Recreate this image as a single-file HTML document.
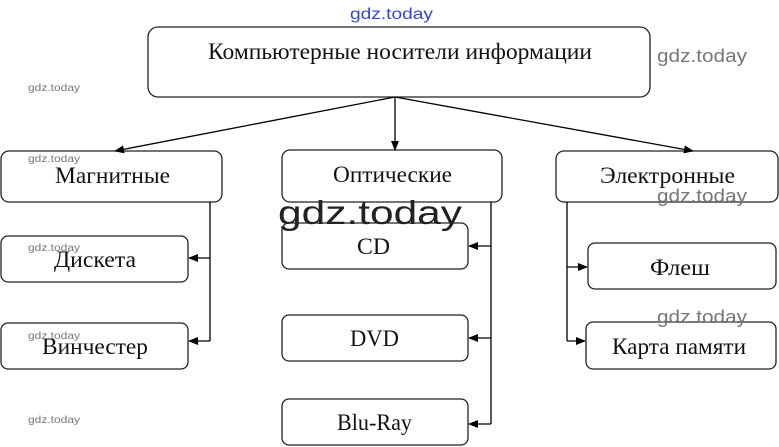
<!DOCTYPE html>
<html><head><meta charset="utf-8"><style>
html,body{margin:0;padding:0;background:#fff;}
svg{display:block;}
text{font-family:"Liberation Serif",serif;fill:#111;}
.w{font-family:"Liberation Sans",sans-serif;fill:#777;}
</style></head><body>
<svg width="779" height="447" viewBox="0 0 779 447" xmlns="http://www.w3.org/2000/svg">
<defs><marker id="a" markerWidth="10" markerHeight="8" refX="9" refY="4" orient="auto" markerUnits="userSpaceOnUse"><path d="M0,0 L10,4 L0,8 z" fill="#000"/></marker></defs>
<g fill="#fff" stroke="#222" stroke-width="1.3">
<rect x="148" y="27" width="502" height="70" rx="10"/>
<rect x="1" y="151" width="221" height="51" rx="8"/>
<rect x="1" y="236" width="187" height="46" rx="7"/>
<rect x="1" y="323" width="187" height="46" rx="7"/>
<rect x="282" y="150" width="220" height="52" rx="8"/>
<rect x="282" y="223" width="186" height="46" rx="7"/>
<rect x="282" y="315" width="186" height="46" rx="7"/>
<rect x="282" y="399" width="186" height="46" rx="7"/>
<rect x="556" y="151" width="222" height="51" rx="8"/>
<rect x="588" y="243" width="188" height="46" rx="7"/>
<rect x="586" y="322" width="190" height="47" rx="7"/>
</g>
<g stroke="#000" stroke-width="1.3" fill="none">
<line x1="395" y1="97" x2="115" y2="151" marker-end="url(#a)"/>
<line x1="395" y1="97" x2="395" y2="150" marker-end="url(#a)"/>
<line x1="395" y1="97" x2="693" y2="151" marker-end="url(#a)"/>
<polyline points="210,202 210,341"/>
<line x1="210" y1="258" x2="189" y2="258" marker-end="url(#a)"/>
<line x1="210" y1="341" x2="189" y2="341" marker-end="url(#a)"/>
<polyline points="491,202 491,424"/>
<line x1="491" y1="246" x2="469" y2="246" marker-end="url(#a)"/>
<line x1="491" y1="338" x2="469" y2="338" marker-end="url(#a)"/>
<line x1="491" y1="424" x2="469" y2="424" marker-end="url(#a)"/>
<polyline points="567,202 567,341"/>
<line x1="567" y1="267" x2="587" y2="267" marker-end="url(#a)"/>
<line x1="567" y1="341" x2="585" y2="341" marker-end="url(#a)"/>
</g>
<g font-size="23">
<text x="208" y="59" textLength="384" lengthAdjust="spacingAndGlyphs">Компьютерные носители информации</text>
<text x="55" y="183" textLength="115" lengthAdjust="spacingAndGlyphs">Магнитные</text>
<text x="54" y="267" textLength="82" lengthAdjust="spacingAndGlyphs">Дискета</text>
<text x="42" y="354" textLength="106" lengthAdjust="spacingAndGlyphs">Винчестер</text>
<text x="333" y="182" textLength="119" lengthAdjust="spacingAndGlyphs">Оптические</text>
<text x="357" y="254" textLength="33" lengthAdjust="spacingAndGlyphs">CD</text>
<text x="350" y="346" textLength="49" lengthAdjust="spacingAndGlyphs">DVD</text>
<text x="337" y="430" textLength="75" lengthAdjust="spacingAndGlyphs">Blu-Ray</text>
<text x="600" y="183" textLength="135" lengthAdjust="spacingAndGlyphs">Электронные</text>
<text x="650" y="275" textLength="60" lengthAdjust="spacingAndGlyphs">Флеш</text>
<text x="612" y="354" textLength="134" lengthAdjust="spacingAndGlyphs">Карта памяти</text>
</g>
<text x="350" y="19" font-size="16" textLength="83" lengthAdjust="spacingAndGlyphs" style="font-family:'Liberation Sans',sans-serif;fill:#3344dd">gdz.today</text>
<text class="w" x="657" y="62" font-size="18" textLength="90" lengthAdjust="spacingAndGlyphs">gdz.today</text>
<text class="w" x="657" y="202" font-size="18" textLength="90" lengthAdjust="spacingAndGlyphs">gdz.today</text>
<text class="w" x="657" y="323" font-size="18" textLength="90" lengthAdjust="spacingAndGlyphs">gdz.today</text>
<text x="278" y="224" font-size="33" textLength="184" lengthAdjust="spacingAndGlyphs" style="font-family:'Liberation Sans',sans-serif;fill:#222">gdz.today</text>
<g font-size="10">
<text class="w" x="28" y="91" textLength="52" lengthAdjust="spacingAndGlyphs">gdz.today</text>
<text class="w" x="28" y="162" textLength="52" lengthAdjust="spacingAndGlyphs">gdz.today</text>
<text class="w" x="28" y="251" textLength="52" lengthAdjust="spacingAndGlyphs">gdz.today</text>
<text class="w" x="28" y="339" textLength="52" lengthAdjust="spacingAndGlyphs">gdz.today</text>
<text class="w" x="28" y="423" textLength="52" lengthAdjust="spacingAndGlyphs">gdz.today</text>
</g>
</svg>
</body></html>
